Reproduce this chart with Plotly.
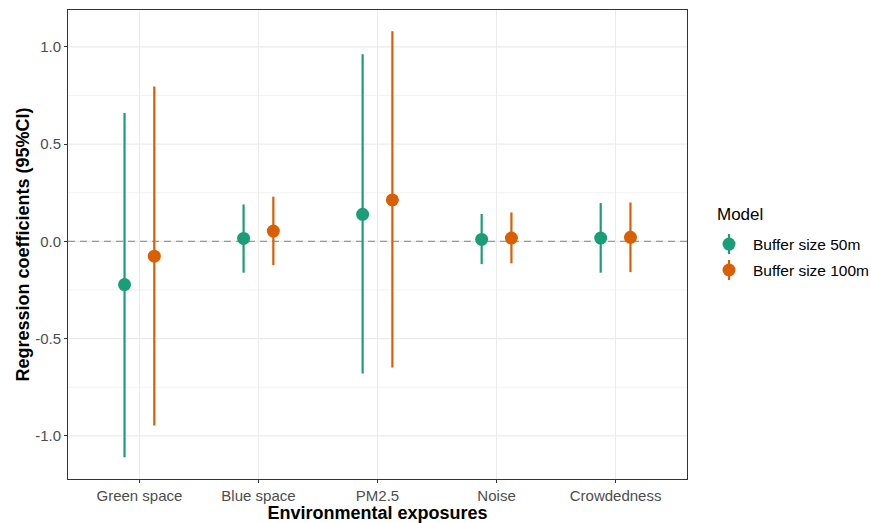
import plotly.graph_objects as go

exposures = ["Green space", "Blue space", "PM2.5", "Noise", "Crowdedness"]
models = ["Buffer size 50m", "Buffer size 100m"]
colors = ["#1B9E77", "#D95F02"]

est_50 = [-0.222, 0.015, 0.139, 0.010, 0.017]
low_50 = [-1.110, -0.161, -0.680, -0.117, -0.161]
up_50 = [0.660, 0.190, 0.962, 0.141, 0.197]

est_100 = [-0.076, 0.053, 0.213, 0.017, 0.021]
low_100 = [-0.947, -0.122, -0.649, -0.113, -0.158]
up_100 = [0.797, 0.230, 1.081, 0.149, 0.200]

y_ticks = [-1.0, -0.5, 0.0, 0.5, 1.0]
y_tick_labels = ["-1.0", "-0.5", "0.0", "0.5", "1.0"]
y_minor = [-0.75, -0.25, 0.25, 0.75]

dodge = 0.125
series = [(est_50, low_50, up_50, -dodge), (est_100, low_100, up_100, dodge)]

fig = go.Figure()
for (est, lo, up, off), name, col in zip(series, models, colors):
    xs = [i + off for i in range(len(exposures))]
    fig.add_trace(go.Scatter(
        x=xs, y=est, mode="markers", name=name, showlegend=False,
        marker=dict(color=col, size=13, line=dict(width=0)),
        error_y=dict(type="data", symmetric=False,
                     array=[u - e for u, e in zip(up, est)],
                     arrayminus=[e - l for e, l in zip(est, lo)],
                     color=col, thickness=2.2, width=0),
    ))

# horizontal gridlines (minor, then major) drawn as shapes so the dashed line sits above them
for v in y_minor:
    fig.add_shape(type="line", xref="paper", x0=0, x1=1, yref="y", y0=v, y1=v,
                  line=dict(color="#F2F2F2", width=1), layer="below")
for v in y_ticks:
    fig.add_shape(type="line", xref="paper", x0=0, x1=1, yref="y", y0=v, y1=v,
                  line=dict(color="#EBEBEB", width=1.2), layer="below")

# zero reference line
fig.add_shape(type="line", xref="paper", x0=0, x1=1, yref="y", y0=0, y1=0,
              line=dict(color="#999999", width=1.3, dash="7px,5px"), layer="below")

# legend (drawn manually: point-range glyphs)
PW, PH = 619.0, 469.0  # plot area size in px
fig.add_annotation(text="Model", xref="paper", yref="paper", x=1.046, y=0.565,
                   xanchor="left", yanchor="middle", showarrow=False,
                   font=dict(size=17, color="black"))
leg_y = [0.501, 0.4456]
for name, col, ly in zip(models, colors, leg_y):
    mx = 1.0679
    fig.add_shape(type="line", xref="paper", yref="paper", x0=mx, x1=mx,
                  y0=ly - 10 / PH, y1=ly + 10 / PH, line=dict(color=col, width=2.2))
    fig.add_shape(type="circle", xref="paper", yref="paper",
                  x0=mx - 6.5 / PW, x1=mx + 6.5 / PW, y0=ly - 6.5 / PH, y1=ly + 6.5 / PH,
                  fillcolor=col, line=dict(width=0))
    fig.add_annotation(text=name, xref="paper", yref="paper", x=1.103, y=ly,
                       xanchor="left", yanchor="middle", showarrow=False,
                       font=dict(size=15.5, color="black"))

fig.update_layout(
    width=871, height=523,
    margin=dict(l=68, r=184, t=10, b=44, autoexpand=False),
    paper_bgcolor="white", plot_bgcolor="white",
    font=dict(family="Liberation Sans, Arial, sans-serif", color="#4D4D4D", size=15),
    showlegend=False,
    xaxis=dict(
        range=[-0.6, 4.6], tickmode="array",
        tickvals=list(range(len(exposures))), ticktext=exposures,
        showgrid=True, gridcolor="#EBEBEB", gridwidth=1.2,
        zeroline=False, showline=True, mirror=True, linecolor="#333333", linewidth=1,
        ticks="outside", ticklen=3, tickcolor="#333333",
        tickfont=dict(size=15, color="#4D4D4D"), automargin=False,
        title=dict(text="<b>Environmental exposures</b>", font=dict(size=18, color="black"), standoff=2),
    ),
    yaxis=dict(
        range=[-1.222, 1.19], tickmode="array",
        tickvals=y_ticks, ticktext=y_tick_labels,
        showgrid=False,
        zeroline=False, showline=True, mirror=True, linecolor="#333333", linewidth=1,
        ticks="outside", ticklen=3, tickcolor="#333333",
        tickfont=dict(size=15, color="#4D4D4D"), automargin=False,
        title=dict(text="<b>Regression coefficients (95%CI)</b>", font=dict(size=18, color="black"), standoff=0),
    ),
)

fig.write_html(
    "out.html",
    config={"displayModeBar": False},
    post_script="document.body.style.margin='0';document.body.style.overflow='hidden';",
)
